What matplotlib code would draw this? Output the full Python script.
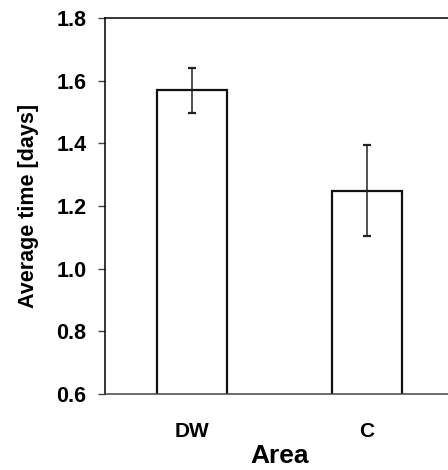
import matplotlib
matplotlib.use("Agg")
import matplotlib.pyplot as plt

categories = ["DW", "C"]
values = [1.57, 1.249]
err_low = [1.496, 1.105]
err_high = [1.641, 1.395]
yticks = [0.6, 0.8, 1.0, 1.2, 1.4, 1.6, 1.8]

plt.rcParams['font.family'] = ['Liberation Sans', 'DejaVu Sans']

fig = plt.figure(figsize=(4.48, 4.70), dpi=100)
ax = fig.add_axes([105/448, 1-394/470, (454-105)/448, (394-18)/470])

x = list(range(len(categories)))
yerr = [[v - l for v, l in zip(values, err_low)], [h - v for v, h in zip(values, err_high)]]
ax.bar(x, values, width=0.4, bottom=0, color='white', edgecolor='#111111', linewidth=1.6, zorder=2)
ax.errorbar(x, values, yerr=yerr, fmt='none', ecolor='#222222', elinewidth=1.1, capsize=3, capthick=1.6, zorder=3)

ax.set_xlim(-0.5, 1.5)
ax.set_ylim(0.6, 1.8)
ax.set_yticks(yticks)
ax.set_yticklabels([f"{t:.1f}" for t in yticks], fontsize=15.5, fontweight='bold')
ax.set_xticks(x)
ax.set_xticklabels(categories, fontsize=15, fontweight='bold')
ax.tick_params(axis='x', length=0, pad=20)
ax.tick_params(axis='y', length=5, width=1, direction='out', pad=8.5, color='#444444')
for s in ['left', 'top', 'right']:
    ax.spines[s].set_linewidth(1.1)
    ax.spines[s].set_color('black')
ax.spines['bottom'].set_linewidth(1.1)
ax.spines['bottom'].set_color('#444444')

ax.set_ylabel("Average time [days]", fontsize=15.5, fontweight='bold', labelpad=12)
ax.set_xlabel("Area", fontsize=19, fontweight='bold', labelpad=2)

fig.savefig("out.png", dpi=100)
